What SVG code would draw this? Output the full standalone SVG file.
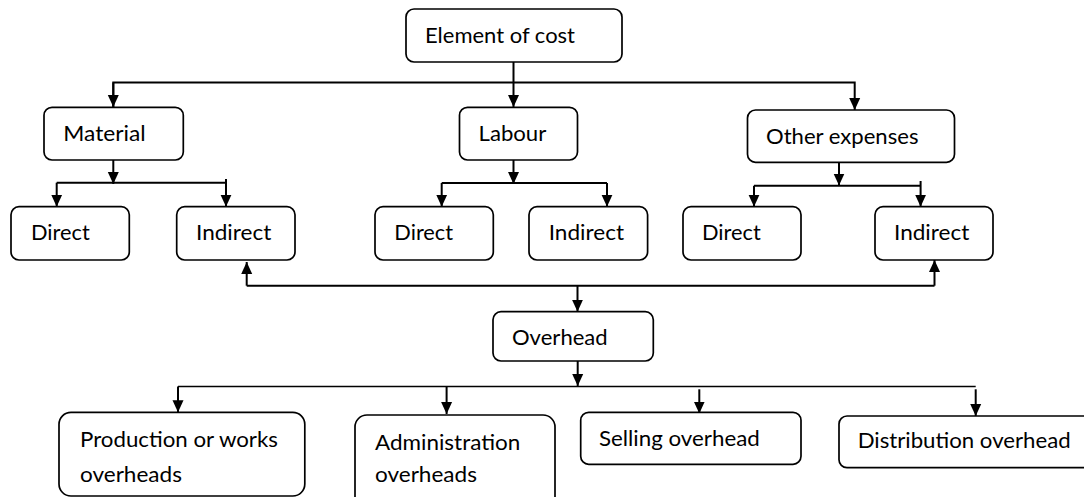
<svg xmlns="http://www.w3.org/2000/svg" width="1084" height="497" viewBox="0 0 1084 497">
<style>
.box{fill:#fff;stroke:#000;stroke-width:1.7}
.t{font-family:Lato,"Open Sans","Liberation Sans",sans-serif;font-size:22px;fill:#000}
.c{fill:none;stroke:#000;stroke-width:2}
.thin{fill:none;stroke:#000;stroke-width:1.4}
</style>
<defs>
<marker id="ah" markerUnits="userSpaceOnUse" markerWidth="12" markerHeight="12" viewBox="0 0 12 12" refX="12" refY="6" orient="auto">
<path d="M0,0.5 L12,6 L0,11.5 Z" fill="#000"/>
</marker>
</defs>
<rect width="1084" height="497" fill="#fff"/>
<g id="connectors">
<path class="c" d="M513.5 62 V107" marker-end="url(#ah)"/>
<path class="c" d="M113.3 107 V82.5 H854.7 V110" marker-end="url(#ah)"/>
<path class="c" d="M113.3 82.5 V107" marker-end="url(#ah)"/>
<path class="c" d="M113.3 160 V184" marker-end="url(#ah)"/>
<path class="c" d="M56.7 182.7 H226"/>
<path class="c" d="M56.7 182.7 V206.7" marker-end="url(#ah)"/>
<path class="c" d="M226 179 V206.7" marker-end="url(#ah)"/>
<path class="c" d="M513.5 160 V184" marker-end="url(#ah)"/>
<path class="c" d="M441.7 183 H607"/>
<path class="c" d="M441.7 183 V206.7" marker-end="url(#ah)"/>
<path class="c" d="M607 183 V206.7" marker-end="url(#ah)"/>
<path class="c" d="M839 162.3 V185.5" marker-end="url(#ah)"/>
<path class="c" d="M754 185.7 H920.6"/>
<path class="c" d="M754 185.7 V206.7" marker-end="url(#ah)"/>
<path class="c" d="M920.6 181 V206.7" marker-end="url(#ah)"/>
<path class="c" d="M246.7 285.7 H934.5"/>
<path class="c" d="M246.7 285.7 V262" marker-end="url(#ah)"/>
<path class="c" d="M934.5 285.7 V260" marker-end="url(#ah)"/>
<path class="c" d="M577.5 285.7 V311.7" marker-end="url(#ah)"/>
<path class="c" d="M577.7 361 V386" marker-end="url(#ah)"/>
<path class="thin" d="M178 386.5 H975.7"/>
<path class="c" d="M178 386.5 V412.3" marker-end="url(#ah)"/>
<path class="c" d="M446.6 386.5 V414" marker-end="url(#ah)"/>
<path class="c" d="M699.3 389.3 V413.5" marker-end="url(#ah)"/>
<path class="c" d="M975.7 389.3 V416" marker-end="url(#ah)"/>
</g>
<g id="n-element"><rect class="box" x="406" y="9" width="216" height="53" rx="8"/><text class="t" x="425" y="43" textLength="150" lengthAdjust="spacingAndGlyphs">Element of cost</text></g>
<g id="n-material"><rect class="box" x="44" y="107.3" width="139.3" height="52.7" rx="8"/><text class="t" x="63.3" y="141" textLength="82.4" lengthAdjust="spacingAndGlyphs">Material</text></g>
<g id="n-labour"><rect class="box" x="459.5" y="107.3" width="118" height="52.7" rx="8"/><text class="t" x="478.5" y="141" textLength="67.8" lengthAdjust="spacingAndGlyphs">Labour</text></g>
<g id="n-other"><rect class="box" x="747.5" y="110" width="207" height="52.3" rx="8"/><text class="t" x="766" y="143.5" textLength="152.5" lengthAdjust="spacingAndGlyphs">Other expenses</text></g>
<g id="n-mat-direct"><rect class="box" x="11" y="206.7" width="118.3" height="53.3" rx="8"/><text class="t" x="31" y="240" textLength="58.8" lengthAdjust="spacingAndGlyphs">Direct</text></g>
<g id="n-mat-indirect"><rect class="box" x="176.7" y="206.7" width="118.3" height="53.3" rx="8"/><text class="t" x="196" y="240" textLength="75.3" lengthAdjust="spacingAndGlyphs">Indirect</text></g>
<g id="n-lab-direct"><rect class="box" x="375" y="206.7" width="118.3" height="53.3" rx="8"/><text class="t" x="394.3" y="240" textLength="58.8" lengthAdjust="spacingAndGlyphs">Direct</text></g>
<g id="n-lab-indirect"><rect class="box" x="529" y="206.7" width="118.6" height="53.3" rx="8"/><text class="t" x="548.7" y="240" textLength="75.3" lengthAdjust="spacingAndGlyphs">Indirect</text></g>
<g id="n-oth-direct"><rect class="box" x="683" y="206.7" width="118" height="53.3" rx="8"/><text class="t" x="702" y="240" textLength="58.8" lengthAdjust="spacingAndGlyphs">Direct</text></g>
<g id="n-oth-indirect"><rect class="box" x="875" y="206.7" width="118" height="53.3" rx="8"/><text class="t" x="894" y="240" textLength="75.3" lengthAdjust="spacingAndGlyphs">Indirect</text></g>
<g id="n-overhead"><rect class="box" x="493" y="311.7" width="160.3" height="49.3" rx="8"/><text class="t" x="512" y="345" textLength="95.7" lengthAdjust="spacingAndGlyphs">Overhead</text></g>
<g id="n-production"><rect class="box" x="59" y="412.3" width="245.8" height="83.7" rx="12"/><text class="t" x="80" y="447" textLength="197.9" lengthAdjust="spacingAndGlyphs">Production or works</text><text class="t" x="80" y="482" textLength="101.9" lengthAdjust="spacingAndGlyphs">overheads</text></g>
<g id="n-admin"><rect class="box" x="355" y="415" width="200" height="100" rx="12"/><text class="t" x="375" y="449.5" textLength="145.3" lengthAdjust="spacingAndGlyphs">Administration</text><text class="t" x="375" y="482" textLength="101.9" lengthAdjust="spacingAndGlyphs">overheads</text></g>
<g id="n-selling"><rect class="box" x="580.7" y="412.3" width="220.3" height="52" rx="8"/><text class="t" x="599" y="445.7" textLength="160.8" lengthAdjust="spacingAndGlyphs">Selling overhead</text></g>
<g id="n-distribution"><rect class="box" x="839" y="416" width="270" height="51.7" rx="8"/><text class="t" x="857.7" y="448.3" textLength="213" lengthAdjust="spacingAndGlyphs">Distribution overhead</text></g>
</svg>
